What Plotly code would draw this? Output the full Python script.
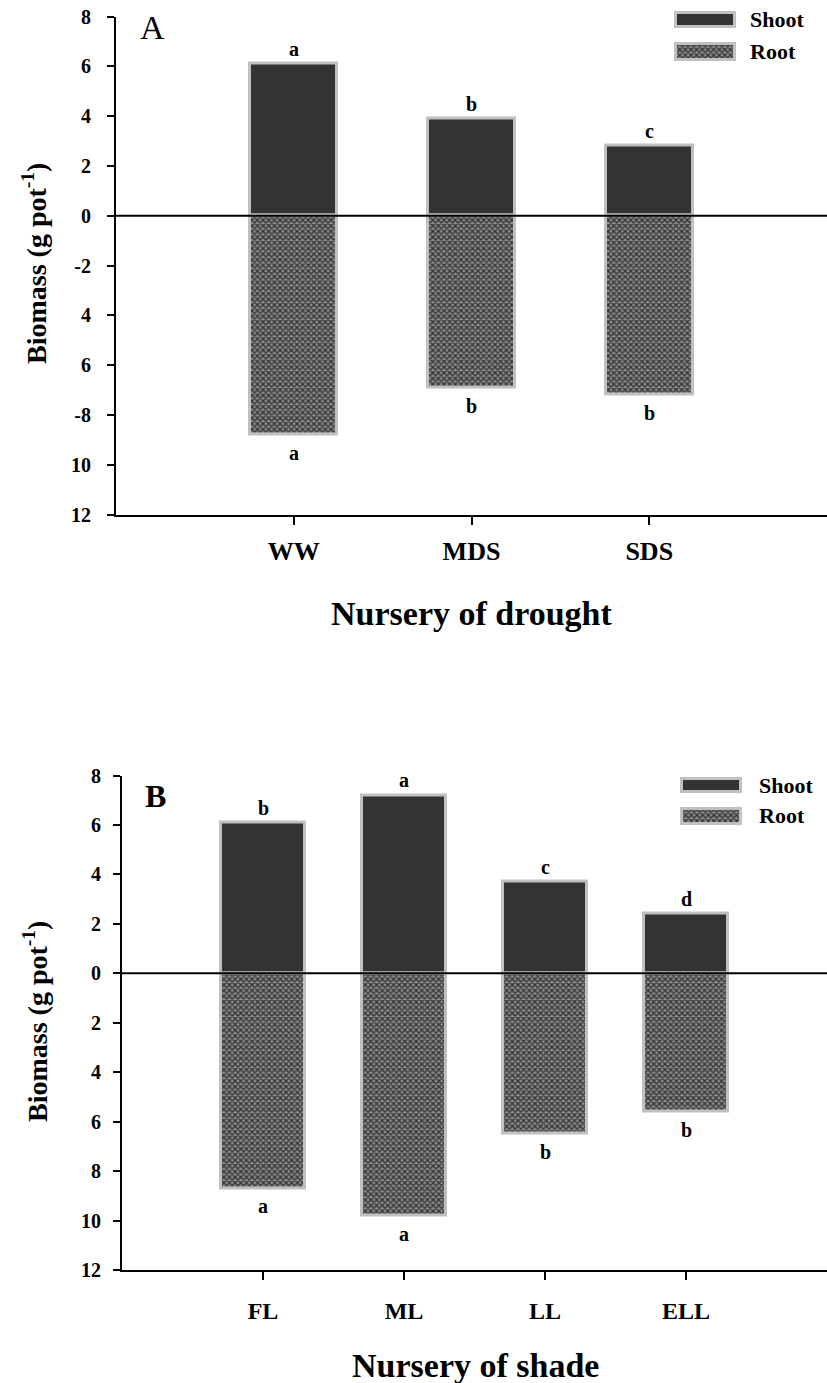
import plotly.graph_objects as go

# ---------------- data ----------------
drought_cats = ["WW", "MDS", "SDS"]
drought_shoot = [6.1, 3.9, 2.8]
drought_root = [8.8, 6.9, 7.2]
drought_shoot_letters = ["a", "b", "c"]
drought_root_letters = ["a", "b", "b"]

shade_cats = ["FL", "ML", "LL", "ELL"]
shade_shoot = [6.1, 7.2, 3.7, 2.4]
shade_root = [8.7, 9.8, 6.5, 5.6]
shade_shoot_letters = ["b", "a", "c", "d"]
shade_root_letters = ["a", "a", "b", "b"]

ytick_vals = [8, 6, 4, 2, 0, -2, -4, -6, -8, -10, -12]
ytick_text_A = ["8", "6", "4", "2", "0", "-2", "4", "6", "-8", "10", "12"]
ytick_text_B = ["8", "6", "4", "2", "0", "2", "4", "6", "8", "10", "12"]

legend_names = ["Shoot", "Root"]
ytitle = "Biomass (g pot<sup>-1</sup>)"
xtitle_A = "Nursery of drought"
xtitle_B = "Nursery of shade"

# ---------------- styles ----------------
FONT = "Liberation Serif"
SHOOT_COLOR = "#333333"
OUTLINE = dict(color="#c0c0c0", width=3)
ROOT_PATTERN = dict(shape="x", size=4, solidity=0.55, fgcolor="#333333",
                    bgcolor="#8a8a8a", fillmode="replace")

W, H = 827, 1383
ML, MT, MB = 116, 10, 113
PW = W - ML
PH = H - MT - MB


def px(xp):
    return (xp - ML) / PW


def py(yp):
    return (H - MB - yp) / PH


fig = go.Figure()


def panel(cats, shoot, root, sl, rl, xa, ya, width):
    fig.add_trace(go.Bar(x=cats, y=shoot, width=width, xaxis=xa, yaxis=ya,
                         marker=dict(color=SHOOT_COLOR, line=OUTLINE),
                         showlegend=False))
    fig.add_trace(go.Bar(x=cats, y=[-v for v in root], width=width, xaxis=xa, yaxis=ya,
                         marker=dict(color="#666666", line=OUTLINE, pattern=ROOT_PATTERN),
                         showlegend=False))
    for c, v, t in zip(cats, shoot, sl):
        fig.add_annotation(x=c, y=v, xref=xa, yref=ya, text=t, showarrow=False,
                           xanchor="center", yanchor="bottom", yshift=2,
                           font=dict(family=FONT, size=20, color="black", weight="bold"))
    for c, v, t in zip(cats, root, rl):
        fig.add_annotation(x=c, y=-v, xref=xa, yref=ya, text=t, showarrow=False,
                           xanchor="center", yanchor="top", yshift=-5,
                           font=dict(family=FONT, size=20, color="black", weight="bold"))
    # zero line drawn on top of bars
    fig.add_shape(type="line", xref=xa + " domain", yref=ya, x0=0, x1=1, y0=0, y1=0,
                  line=dict(color="black", width=2), layer="above")


panel(drought_cats, drought_shoot, drought_root, drought_shoot_letters,
      drought_root_letters, "x", "y", 0.49)
panel(shade_cats, shade_shoot, shade_root, shade_shoot_letters,
      shade_root_letters, "x2", "y2", 0.6)


# legend swatches (horizontal bars on small hidden axes)
def legend_swatches(xa, ya):
    fig.add_trace(go.Bar(x=[1], y=[0], base=0, orientation="h", width=0.42,
                         xaxis=xa, yaxis=ya, marker=dict(color=SHOOT_COLOR, line=OUTLINE),
                         showlegend=False))
    fig.add_trace(go.Bar(x=[1], y=[1], base=0, orientation="h", width=0.5,
                         xaxis=xa, yaxis=ya,
                         marker=dict(color="#666666", line=OUTLINE, pattern=ROOT_PATTERN),
                         showlegend=False))


legend_swatches("x3", "y3")
legend_swatches("x4", "y4")

axis_common = dict(showline=True, linecolor="black", linewidth=2, ticks="outside",
                   tickcolor="black", tickwidth=2, showgrid=False, zeroline=False)
hidden = dict(visible=False, showgrid=False, zeroline=False, fixedrange=True)

fig.update_layout(
    width=W, height=H,
    margin=dict(l=ML, r=0, t=MT, b=MB),
    paper_bgcolor="white", plot_bgcolor="white",
    barmode="relative", bargap=0,
    showlegend=False,
    xaxis=dict(domain=[0, 1], range=[-1, 3], anchor="y", ticklen=8,
               ticklabelstandoff=4,
               tickfont=dict(family=FONT, size=26, color="black", weight="bold"),
               **axis_common),
    yaxis=dict(domain=[py(514.5), py(16.5)], range=[-12, 8], anchor="x",
               tickvals=ytick_vals, ticktext=ytick_text_A, ticklen=7,
               ticklabelstandoff=12,
               tickfont=dict(family=FONT, size=20, color="black", weight="bold"),
               **axis_common),
    xaxis2=dict(domain=[px(122), 1], range=[-1, 4], anchor="y2", ticklen=8,
                ticklabelstandoff=10,
                tickfont=dict(family=FONT, size=24, color="black", weight="bold"),
                **axis_common),
    yaxis2=dict(domain=[0, py(775.6)], range=[-12, 8], anchor="x2",
                tickvals=ytick_vals, ticktext=ytick_text_B, ticklen=7,
                ticklabelstandoff=8,
                tickfont=dict(family=FONT, size=20, color="black", weight="bold"),
                **axis_common),
    xaxis3=dict(domain=[px(674), px(737)], range=[-0.03, 1.03], anchor="y3", **hidden),
    yaxis3=dict(domain=[py(68), py(10)], range=[1.5, -0.3125], anchor="x3", **hidden),
    xaxis4=dict(domain=[px(680), px(743)], range=[-0.03, 1.03], anchor="y4", **hidden),
    yaxis4=dict(domain=[py(832), py(770)], range=[1.5, -0.5], anchor="x4", **hidden),
)

# legend labels
for name, yy in zip(legend_names, [20, 52]):
    fig.add_annotation(x=px(748), y=py(yy), xref="paper", yref="paper", text=name,
                       showarrow=False, xanchor="left", yanchor="middle",
                       font=dict(family=FONT, size=22, color="black", weight="bold"))
for name, yy in zip(legend_names, [785, 816]):
    fig.add_annotation(x=px(757), y=py(yy), xref="paper", yref="paper", text=name,
                       showarrow=False, xanchor="left", yanchor="middle",
                       font=dict(family=FONT, size=22, color="black", weight="bold"))

# panel letters
fig.add_annotation(x=px(152), y=py(28), xref="paper", yref="paper", text="A",
                   showarrow=False, xanchor="center", yanchor="middle",
                   font=dict(family=FONT, size=34, color="black"))
fig.add_annotation(x=px(155), y=py(796), xref="paper", yref="paper", text="B",
                   showarrow=False, xanchor="center", yanchor="middle",
                   font=dict(family=FONT, size=32, color="black", weight="bold"))

# axis titles
for yc in [264, 1022]:
    fig.add_annotation(x=px(35), y=py(yc), xref="paper", yref="paper", text=ytitle,
                       showarrow=False, textangle=-90, xanchor="center", yanchor="middle",
                       font=dict(family=FONT, size=28, color="black", weight="bold"))
fig.add_annotation(x=px(471), y=py(613), xref="paper", yref="paper", text=xtitle_A,
                   showarrow=False, xanchor="center", yanchor="middle",
                   font=dict(family=FONT, size=34, color="black", weight="bold"))
fig.add_annotation(x=px(475), y=py(1365), xref="paper", yref="paper", text=xtitle_B,
                   showarrow=False, xanchor="center", yanchor="middle",
                   font=dict(family=FONT, size=34, color="black", weight="bold"))

fig.write_html("out.html", config={"displayModeBar": False},
               post_script="document.body.style.margin='0';")
